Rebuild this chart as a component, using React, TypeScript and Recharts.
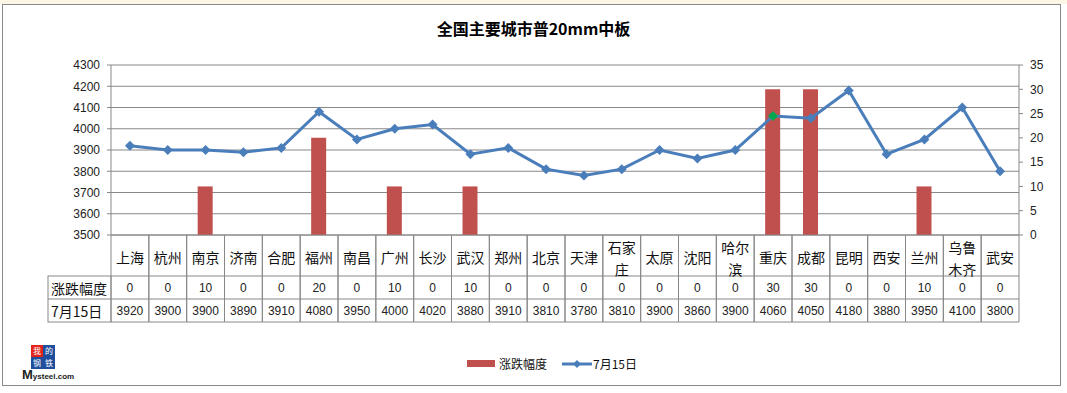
import { ComposedChart, Bar, Line, XAxis, YAxis, CartesianGrid } from 'recharts'

const cities = ['上海', '杭州', '南京', '济南', '合肥', '福州', '南昌', '广州', '长沙', '武汉', '郑州', '北京', '天津', '石家庄', '太原', '沈阳', '哈尔滨', '重庆', '成都', '昆明', '西安', '兰州', '乌鲁木齐', '武安']
const change = [0, 0, 10, 0, 0, 20, 0, 10, 0, 10, 0, 0, 0, 0, 0, 0, 0, 30, 30, 0, 0, 10, 0, 0]
const price = [3920, 3900, 3900, 3890, 3910, 4080, 3950, 4000, 4020, 3880, 3910, 3810, 3780, 3810, 3900, 3860, 3900, 4060, 4050, 4180, 3880, 3950, 4100, 3800]
const leftTicks = [3500, 3600, 3700, 3800, 3900, 4000, 4100, 4200, 4300]
const rightTicks = [0, 5, 10, 15, 20, 25, 30, 35]

const seriesBar = '涨跌幅度'
const seriesLine = '7月15日'
const highlightCity = '重庆'

const data = cities.map((city, i) => ({ city, change: change[i], price: price[i] }))

const W = 1067
const H = 393
const PLOT_L = 111
const PLOT_R = 1019
const BAND = (PLOT_R - PLOT_L) / cities.length
const GRID = '#888888'
const RED = '#C0504D'
const BLUE = '#4A7EBB'
const FONT = '"Noto Sans CJK SC", "Liberation Sans", sans-serif'
const NUM_FONT = '"Liberation Sans", sans-serif'

const TableTick = (props: any) => {
  const { x, y, payload } = props
  const i = payload.index
  const half = BAND / 2
  const name: string = payload.value
  const lines = name.length > 2 ? [name.slice(0, 2), name.slice(2)] : [name]
  const hx = x - half - 63
  return (
    <g>
      <line x1={x - half} y1={y} x2={x - half} y2={y + 87} stroke={GRID} />
      <line x1={x + half} y1={y} x2={x + half} y2={y + 87} stroke={GRID} />
      <line x1={x - half} y1={y + 41} x2={x + half} y2={y + 41} stroke={GRID} />
      <line x1={x - half} y1={y + 64} x2={x + half} y2={y + 64} stroke={GRID} />
      <line x1={x - half} y1={y + 87} x2={x + half} y2={y + 87} stroke={GRID} />
      {lines.map((t, k) => (
        <text key={k} x={x} y={lines.length === 1 ? y + 22 : y + 12 + k * 22} textAnchor="middle" dominantBaseline="central"
          fontSize={14} fill="#111" fontFamily={FONT}>{t}</text>
      ))}
      <text x={x} y={y + 53} textAnchor="middle" dominantBaseline="central" fontSize={12} fill="#222" fontFamily={NUM_FONT}>{change[i]}</text>
      <text x={x} y={y + 76} textAnchor="middle" dominantBaseline="central" fontSize={12} fill="#222" fontFamily={NUM_FONT}>{price[i]}</text>
      {i === 0 && (
        <g>
          <rect x={hx} y={y + 41} width={63} height={46} fill="none" stroke={GRID} />
          <line x1={hx} y1={y + 64} x2={hx + 63} y2={y + 64} stroke={GRID} />
          <text x={hx + 3} y={y + 53} dominantBaseline="central" fontSize={14} fill="#111" fontFamily={FONT}>{seriesBar}</text>
          <text x={hx + 3} y={y + 76} dominantBaseline="central" fontSize={14} fill="#111" fontFamily={FONT}>{seriesLine}</text>
        </g>
      )}
    </g>
  )
}

const Diamond = (props: any) => {
  const { cx, cy, index, payload } = props
  if (cx == null || cy == null) return <g key={index} />
  const r = 5
  const fill = payload.city === highlightCity ? '#00A650' : BLUE
  return <polygon key={index} points={`${cx},${cy - r} ${cx + r},${cy} ${cx},${cy + r} ${cx - r},${cy}`} fill={fill} />
}

const logoCell = (left: number, top: number, bg: string) => ({
  position: 'absolute' as const, left, top, width: 12, height: 12, background: bg, color: '#fff',
  fontSize: 8, lineHeight: '12px', textAlign: 'center' as const, overflow: 'hidden',
})

export default function App() {
  return (
    <div style={{ position: 'absolute', left: 0, top: 0, width: W, height: H, background: '#fff', overflow: 'hidden', fontFamily: FONT }}>
      <div style={{ position: 'absolute', left: 0, top: 0, width: W, height: 4, background: '#FBF6E6' }} />
      <div style={{ position: 'absolute', left: 2, top: 4, width: 1059, height: 382, border: '1px solid #8a8a8a', boxSizing: 'border-box' }} />
      <div style={{ position: 'absolute', left: 0, top: 16, width: W, textAlign: 'center', fontSize: 16, fontWeight: 'bold', color: '#000' }}>
        全国主要城市普20mm中板
      </div>
      <div style={{ position: 'absolute', left: 0, top: 0 }}>
        <ComposedChart width={W} height={H} data={data} margin={{ top: 65, right: 6, left: 51, bottom: 71 }} barCategoryGap={0}>
          <CartesianGrid vertical={false} stroke={GRID} yAxisId="left" />
          <XAxis dataKey="city" interval={0} tickSize={0} tickMargin={0} height={87} axisLine={{ stroke: GRID }} tickLine={false} tick={<TableTick />} />
          <YAxis yAxisId="left" orientation="left" width={60} domain={[3500, 4300]} ticks={leftTicks} interval={0}
            axisLine={{ stroke: GRID }} tickLine={{ stroke: GRID }} tickSize={4} tickMargin={7}
            tick={{ fontSize: 12, fill: '#222', fontFamily: NUM_FONT }} />
          <YAxis yAxisId="right" orientation="right" width={42} domain={[0, 35]} ticks={rightTicks} interval={0}
            axisLine={{ stroke: GRID }} tickLine={{ stroke: GRID }} tickSize={4} tickMargin={7}
            tick={{ fontSize: 12, fill: '#222', fontFamily: NUM_FONT, textAnchor: 'start' }} />
          <Bar yAxisId="right" dataKey="change" name={seriesBar} fill={RED} barSize={15} isAnimationActive={false} />
          <Line yAxisId="left" dataKey="price" name={seriesLine} stroke={BLUE} strokeWidth={3} dot={Diamond} activeDot={false} isAnimationActive={false} />
        </ComposedChart>
      </div>
      <div style={{ position: 'absolute', left: 467, top: 355, display: 'flex', alignItems: 'center', fontSize: 12, color: '#111' }}>
        <div style={{ width: 28, height: 7, background: RED, marginRight: 4 }} />
        <span>{seriesBar}</span>
        <svg width={32} height={12} style={{ marginLeft: 14 }}>
          <line x1={1} y1={6} x2={31} y2={6} stroke={BLUE} strokeWidth={3} />
          <polygon points="16,2 20,6 16,10 12,6" fill={BLUE} />
        </svg>
        <span>{seriesLine}</span>
      </div>
      <div style={{ position: 'absolute', left: 31, top: 345, width: 24, height: 24 }}>
        <div style={logoCell(0, 0, '#E2231A')}>我</div>
        <div style={logoCell(12, 0, '#1F4E9C')}>的</div>
        <div style={logoCell(0, 12, '#1F4E9C')}>钢</div>
        <div style={logoCell(12, 12, '#1F4E9C')}>铁</div>
      </div>
      <div style={{ position: 'absolute', left: 22, top: 367, fontFamily: NUM_FONT, color: '#222', fontSize: 8, fontWeight: 'bold' }}>
        <span style={{ fontSize: 13 }}>M</span>ysteel.com
      </div>
    </div>
  )
}
